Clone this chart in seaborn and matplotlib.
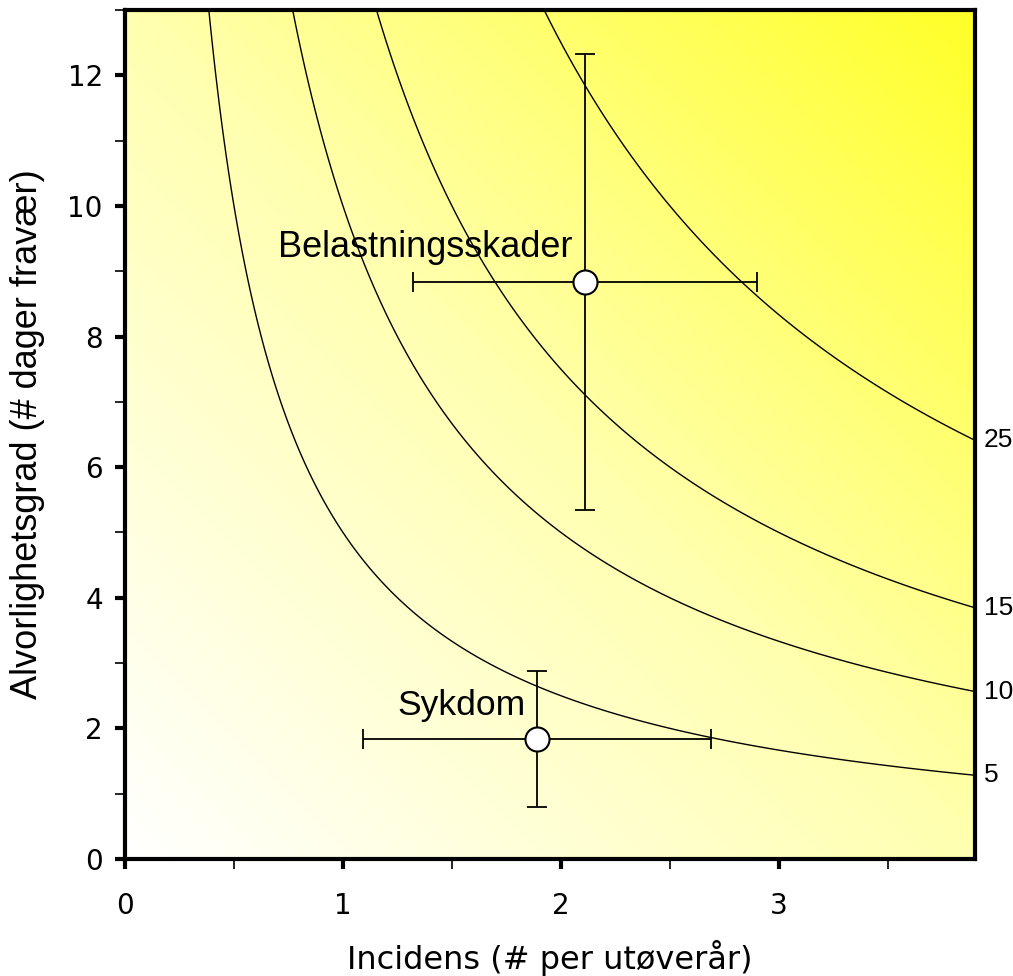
import numpy as np
import matplotlib
matplotlib.use("Agg")
import matplotlib.pyplot as plt
from matplotlib.colors import LinearSegmentedColormap
import seaborn as sns
import pandas as pd

# burden levels (incidence x severity)
levels = [5, 10, 15, 25]
level_labels = ["5", "10", "15", "25"]

# groups with mean and spread
groups = ["Belastningsskader", "Sykdom"]
incidence = [2.11, 1.89]
incidence_err = [0.79, 0.80]
severity = [8.83, 1.84]
severity_err = [3.49, 1.04]

xmax, ymax = 3.9, 13

sns.set_style("ticks", {"axes.edgecolor": "black", "xtick.color": "black",
                        "ytick.color": "black", "text.color": "black",
                        "axes.labelcolor": "black"})
plt.rcParams["font.family"] = ["DejaVu Sans"]

fig = plt.figure(figsize=(10.13, 9.76), dpi=100)
ax = fig.add_axes([0.1234, 0.1199, 0.8391, 0.8699])

# background gradient white -> yellow
gx, gy = np.meshgrid(np.linspace(0, 1, 300), np.linspace(0, 1, 300))
grad = (gx + gy) / 2
cmap = LinearSegmentedColormap.from_list("wy", ["#ffffff", "#ffffb0", "#ffff28"])
ax.imshow(grad, cmap=cmap, origin="lower", extent=[0, xmax, 0, ymax],
          aspect="auto", zorder=0)

# iso-burden curves
cx, cy = np.meshgrid(np.linspace(0.01, xmax, 600), np.linspace(0.01, ymax, 600))
ax.contour(cx, cy, cx * cy, levels=levels, colors="black", linewidths=1.0, zorder=1)
for lv, lab in zip(levels, level_labels):
    ax.text(xmax + 0.04, lv / xmax, lab, fontsize=19, family="Liberation Sans",
            va="center", ha="left", clip_on=False)

df = pd.DataFrame({"group": groups, "x": incidence, "y": severity})
ax.errorbar(incidence, severity, xerr=incidence_err, yerr=severity_err, fmt="none",
            ecolor="black", elinewidth=1.3, capsize=7, capthick=1.3, zorder=2)
sns.scatterplot(data=df, x="x", y="y", ax=ax, s=300, color="white",
                edgecolor="black", linewidth=1.5, zorder=3, legend=False)

ax.text(1.378, 9.1, "Belastningsskader", fontsize=26, family="Liberation Sans",
        ha="center", va="bottom")
ax.text(1.543, 2.1, "Sykdom", fontsize=25.5, family="Liberation Sans",
        ha="center", va="bottom")

ax.set_xlim(0, xmax)
ax.set_ylim(0, ymax)
ax.set_xticks([0, 1, 2, 3])
ax.set_xticks([0.5, 1.5, 2.5, 3.5], minor=True)
ax.set_yticks([0, 2, 4, 6, 8, 10, 12])
ax.set_yticks([1, 3, 5, 7, 9, 11, 13], minor=True)
ax.tick_params(axis="both", which="major", direction="out", length=7, width=3,
               labelsize=20)
ax.tick_params(axis="x", which="major", pad=17)
ax.tick_params(axis="y", which="major", pad=9)
ax.tick_params(axis="both", which="minor", direction="out", length=7, width=1.2)
for sp in ax.spines.values():
    sp.set_linewidth(3)
    sp.set_visible(True)

ax.set_xlabel("Incidens (# per utøverår)", fontsize=23, labelpad=14)
ax.set_ylabel("Alvorlighetsgrad (# dager fravær)", fontsize=26,
              family="Liberation Sans", labelpad=16)

fig.savefig("out.png", dpi=100)
